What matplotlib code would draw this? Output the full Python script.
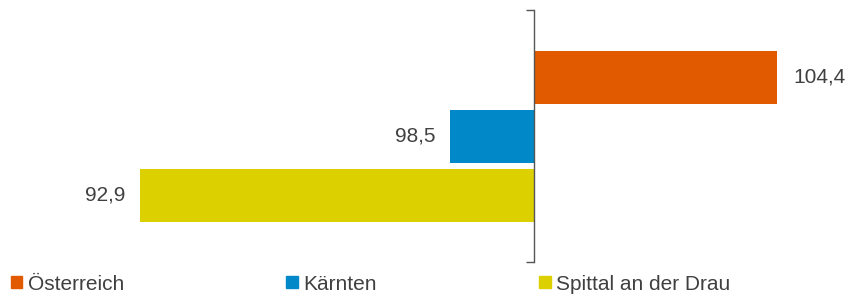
import matplotlib.pyplot as plt
from matplotlib.patches import Patch

plt.rcParams['font.family'] = ['Liberation Sans', 'DejaVu Sans']

regions = ['Österreich', 'Kärnten', 'Spittal an der Drau']
values = [104.4, 98.5, 92.9]
labels = ['104,4', '98,5', '92,9']
colors = ['#E25A00', '#0088C9', '#DCD000']
base = 100

W, H = 851, 296
fig = plt.figure(figsize=(W / 100, H / 100), dpi=100)
ax = fig.add_axes([0, 0, 1, 1])

px = 55.4  # pixels per unit
ax.set_xlim(base - 533.5 / px, base + (W - 533.5) / px)
pos = [0, 1, 2]
half = 126 / 59
ax.set_ylim(1 + half, 1 - half)
# axis spans y 10..262 in pixels
ax.set_position([0, (H - 262) / H, 1, 252 / H])

for p, v, c, lab in zip(pos, values, colors, labels):
    ax.barh(p, v - base, left=base, height=53 / 59, color=c)
    if v >= base:
        ax.text(v + 16 / px, p, lab, ha='left', va='center', fontsize=15, color='#404040')
    else:
        ax.text(v - 15 / px, p, lab, ha='right', va='center', fontsize=15, color='#404040')

for s in ['top', 'right', 'bottom']:
    ax.spines[s].set_visible(False)
ax.spines['left'].set_position(('data', base))
ax.spines['left'].set_color('#555555')
ax.spines['left'].set_linewidth(1.0)
ax.set_xticks([])
ax.set_yticks([1 + half, 1 - half])
ax.set_yticklabels([])
ax.tick_params(axis='y', direction='out', length=6, width=1.0, color='#555555')

handles = [Patch(color=c, label=r) for c, r in zip(colors, regions)]
fig.legend(handles=handles, loc='center left', bbox_to_anchor=(11 / W, 1 - 284 / H),
           ncol=3, frameon=False, fontsize=15, handlelength=0.55, handleheight=0.55,
           handletextpad=0.25, columnspacing=7.8, borderpad=0, borderaxespad=0,
           labelcolor='#404040')

fig.savefig('out.png', dpi=100)
